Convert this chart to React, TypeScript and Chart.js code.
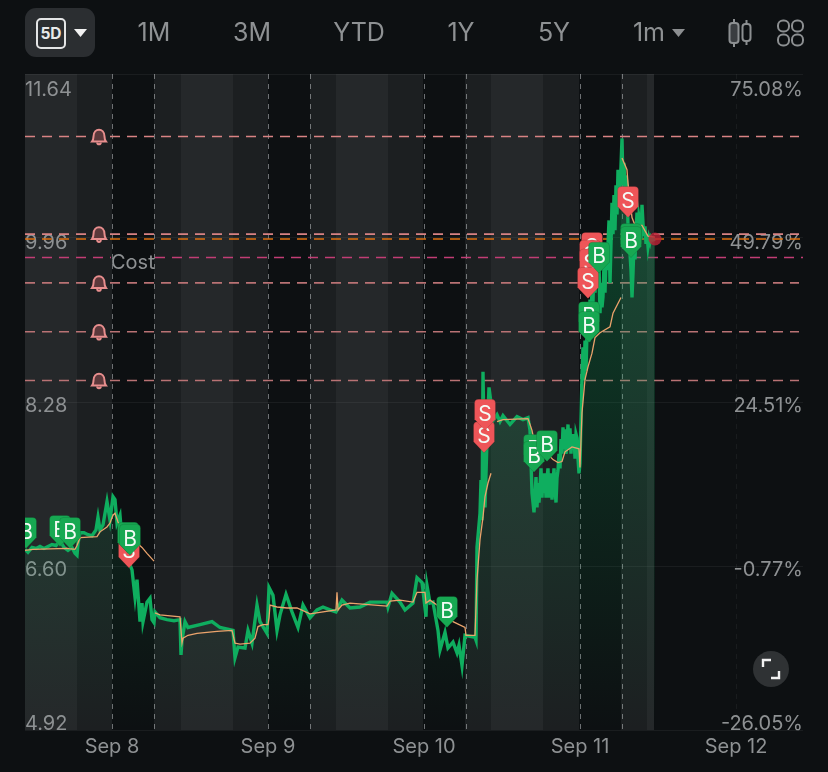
import React, { useEffect, useRef } from "react";
import { Chart, registerables } from "chart.js";

Chart.register(...registerables);

const toolbarLabels = ["1M", "3M", "YTD", "1Y", "5Y"];
const priceTicks = [4.92, 6.6, 8.28, 9.96, 11.64];
const percentTicks = [-26.05, -0.77, 24.51, 49.79, 75.08];
const sessionLines = [87, 129, 243, 285, 399, 441, 555, 597, 711];
const dayTicks = [87, 243, 399, 555, 711];
const dayLabels = ["Sep 8", "Sep 9", "Sep 10", "Sep 11", "Sep 12"];

const bandEdges = [0, 52, 87, 129, 156, 208, 243, 285, 311, 363, 398, 440, 466, 518, 554, 596, 622, 629];
const bandKinds = ["light", "mid", "dark", "mid", "light", "mid", "dark", "mid", "light", "mid", "dark", "mid", "light", "mid", "dark", "mid", "light"];

const priceXEarly = [0, 3, 7, 11, 15, 19, 23, 27, 31, 35, 39, 43, 47, 50, 52, 53, 55, 59, 63, 67, 71, 73, 75, 78, 82, 85, 88, 90, 92, 95, 97, 101, 107, 110, 112, 115, 117, 118, 122, 125, 127, 129, 130, 135, 142, 149, 155, 156, 157, 160, 163, 175, 187, 195, 208, 210, 213, 220, 223, 227, 232, 235, 242, 244, 248, 252, 255, 261, 267, 273, 278, 285, 292, 298, 305, 311, 317, 325, 335, 345, 362, 363, 367, 375, 380, 388, 392, 397, 398, 401, 402, 405, 408, 413, 415, 420, 423, 428, 432, 434, 437, 440, 450, 451, 452, 455, 456, 457, 458, 460, 462, 464, 466, 468, 472, 475, 478, 485, 492, 498, 503, 505, 507, 509];
const priceYEarly = [6.77, 6.74, 6.79, 6.78, 6.8, 6.78, 6.8, 6.82, 6.81, 6.86, 6.79, 6.76, 6.79, 6.73, 6.71, 6.83, 6.94, 6.94, 6.92, 6.91, 6.97, 7.1, 6.97, 7.02, 7.26, 7.07, 7.31, 7.28, 7.04, 7.12, 6.87, 6.71, 6.56, 6.28, 6.46, 6.03, 6.22, 6.03, 6.23, 6.27, 6.05, 6.02, 6.13, 6.07, 6.05, 6.04, 6.05, 5.69, 5.84, 6.03, 5.97, 6.0, 6.03, 5.97, 5.94, 5.66, 5.77, 5.76, 5.94, 5.81, 6.2, 6.03, 5.91, 6.38, 6.3, 5.94, 6.1, 6.31, 6.13, 5.97, 6.2, 6.07, 6.15, 6.18, 6.15, 6.13, 6.25, 6.17, 6.18, 6.23, 6.23, 6.18, 6.32, 6.23, 6.15, 6.22, 6.48, 6.43, 6.35, 6.08, 6.4, 6.22, 6.23, 5.94, 5.74, 5.92, 5.76, 5.82, 5.71, 5.79, 5.58, 5.89, 5.87, 5.84, 6.79, 7.14, 7.48, 7.07, 8.59, 7.2, 7.89, 8.43, 8.27, 8.09, 8.15, 8.08, 8.14, 8.05, 8.13, 8.1, 8.12, 7.99, 7.35, 7.15];

const priceLate: number[][] = [
  [511, 7.51], [512, 7.2], [513, 7.45], [514, 7.25], [515, 7.41], [516, 7.6], [517, 7.3], [518, 7.55], [519, 7.35], [520, 7.55],
  [521, 7.3], [522, 7.5], [523, 7.6], [524, 7.3], [525, 7.41], [526, 7.55], [527, 7.28], [528, 7.45], [529, 7.6], [530, 7.4],
  [531, 7.25], [532, 7.5], [533, 7.58], [534, 7.75], [535, 7.6], [536, 7.9], [537, 7.75], [538, 8.02], [539, 7.8], [540, 8.0],
  [541, 7.75], [542, 7.86], [543, 8.05], [544, 7.8], [545, 8.01], [546, 7.75], [547, 7.95], [548, 7.79], [549, 7.95], [550, 7.7],
  [551, 7.95], [552, 7.91], [553, 7.7], [554, 7.55], [555, 7.65], [556, 8.1], [557, 8.54], [558, 8.84], [559, 8.5], [560, 8.91],
  [561, 8.6], [562, 9.0], [563, 9.12], [564, 8.9], [565, 9.33], [566, 9.0], [567, 9.5], [568, 9.3], [569, 9.79], [570, 9.4],
  [571, 9.85], [572, 9.94], [573, 9.5], [574, 9.7], [575, 9.19], [576, 9.5], [577, 9.25], [578, 9.36], [579, 9.7], [580, 9.4],
  [581, 9.8], [582, 9.63], [583, 9.9], [584, 10.14], [585, 9.5], [586, 9.9], [587, 10.32], [588, 10.0], [589, 10.4], [590, 10.04],
  [591, 10.5], [592, 10.2], [593, 10.66], [594, 10.3], [595, 10.45], [596, 10.7], [597, 10.98], [598, 10.5], [599, 10.73], [600, 10.4],
  [601, 10.6], [602, 10.5], [603, 10.1], [604, 10.04], [605, 9.8], [606, 9.63], [607, 9.35], [608, 9.6], [609, 9.9], [610, 9.74],
  [611, 10.0], [612, 10.22], [613, 9.95], [614, 10.18], [615, 10.12], [616, 9.95], [617, 10.3], [618, 10.11], [619, 9.98], [620, 10.08],
  [621, 9.9], [622, 10.0], [623, 9.88], [624, 9.96], [625, 9.92], [626, 9.97], [628, 9.94], [630, 9.95],
];

const avgX = [0, 8, 42, 50, 52, 55, 72, 75, 82, 85, 88, 90, 93, 97, 117, 122, 129, 129.5, 130, 135, 155, 157, 158, 163, 172, 192, 207, 210, 215, 225, 230, 233, 238, 243, 244, 245, 252, 262, 272, 285, 311, 312, 313, 317, 325, 362, 365, 375, 388, 392, 400, 401, 405, 412, 428, 440, 441, 450, 452, 455, 458, 460, 463, 466, 467, 472, 478, 503, 507, 509, 528, 533, 537, 540, 547, 554, 555, 557, 560, 563, 567, 570, 575, 585, 588, 596, 596.5, 597, 602, 603, 607, 610, 617, 623, 630];
const avgY = [6.76, 6.77, 6.78, 6.77, 6.81, 6.89, 6.9, 6.95, 7.0, 7.04, 7.12, 7.14, 7.05, 6.97, 6.79, 6.73, 6.65, null, 6.12, 6.1, 6.08, 5.81, 5.86, 5.89, 5.91, 5.93, 5.94, 5.81, 5.8, 5.81, 5.86, 5.98, 6.0, 6.0, 6.07, 6.2, 6.18, 6.17, 6.17, 6.11, 6.15, 6.33, 6.15, 6.2, 6.22, 6.19, 6.24, 6.25, 6.23, 6.33, 6.33, 6.22, 6.25, 6.2, 6.03, 5.97, 5.89, 5.89, 6.46, 6.87, 7.1, 7.31, 7.45, 7.55, null, 8.08, 8.1, 8.11, 7.99, 7.89, 7.69, 7.66, 7.67, 7.77, 7.82, 7.8, 7.61, 8.17, 8.51, 8.64, 8.78, 8.94, 8.99, 9.05, 9.19, 9.35, null, 10.78, 10.66, 10.52, 10.17, 10.09, 10.09, 9.98, 9.97];

const alertPrices = [11.0, 10.0, 9.5, 9.0, 8.5];
const lastPrice = 9.95;
const costPrice = 9.76;
const costLineX = [0, 86, 108, 130, 778];
const costLineY = [costPrice, costPrice, null, costPrice, costPrice];
const costLabelX = 86;

const buyX = [1, 35, 45, 103, 105, 422, 509, 509, 522, 574, 564, 564, 606, 606];
const buyY = [6.78, 6.8, 6.78, 6.73, 6.71, 5.97, 7.63, 7.56, 7.67, 9.6, 8.99, 8.89, 9.79, 9.76];
const sellX = [104, 459, 460, 567, 565, 565, 563, 603];
const sellY = [6.58, 7.76, 7.99, 9.7, 9.62, 9.53, 9.34, 10.17];

const BG = "#0d1012";
const TEXT = "#8e9193";
const FONT = "Inter";
const BAND_COLORS: Record<string, string> = { light: "#25282a", mid: "#1c1f21", dark: "#0d1012" };
const LABEL_NUDGE = [-6, 4, 4, 5, 16];

const pts = (xs: number[], ys: (number | null)[]) => xs.map((x, i) => ({ x, y: ys[i] }));

function drawFlag(ctx: CanvasRenderingContext2D, x: number, tip: number, letter: string, color: string) {
  const w = 10.5, top = tip - 31, sh = tip - 11, r = 4;
  ctx.beginPath();
  ctx.moveTo(x - w, sh);
  ctx.lineTo(x - w, top + r);
  ctx.quadraticCurveTo(x - w, top, x - w + r, top);
  ctx.lineTo(x + w - r, top);
  ctx.quadraticCurveTo(x + w, top, x + w, top + r);
  ctx.lineTo(x + w, sh);
  ctx.lineTo(x, tip);
  ctx.closePath();
  ctx.fillStyle = color;
  ctx.fill();
  ctx.strokeStyle = "rgba(0,0,0,0.12)";
  ctx.lineWidth = 1;
  ctx.stroke();
  ctx.fillStyle = "#f4fbf6";
  ctx.font = `400 21px ${FONT}`;
  ctx.textAlign = "center";
  ctx.textBaseline = "middle";
  ctx.fillText(letter, x, tip - 16);
}

function drawBell(ctx: CanvasRenderingContext2D, x: number, y: number) {
  ctx.beginPath();
  ctx.moveTo(x - 7, y + 5);
  ctx.quadraticCurveTo(x - 5.5, y + 3, x - 5.5, y);
  ctx.bezierCurveTo(x - 5.5, y - 9, x + 5.5, y - 9, x + 5.5, y);
  ctx.quadraticCurveTo(x + 5.5, y + 3, x + 7, y + 5);
  ctx.closePath();
  ctx.fillStyle = "#5c383b";
  ctx.fill();
  ctx.strokeStyle = "#e88e8e";
  ctx.lineWidth = 2;
  ctx.stroke();
  ctx.beginPath();
  ctx.arc(x, y + 6, 1.8, 0, Math.PI);
  ctx.stroke();
}

const paintPlugin = {
  id: "paintPlugin",
  beforeDraw(chart: any) {
    const { ctx, chartArea, scales } = chart;
    ctx.save();
    bandKinds.forEach((k, i) => {
      const a = scales.x.getPixelForValue(bandEdges[i]);
      const b = scales.x.getPixelForValue(bandEdges[i + 1]);
      ctx.fillStyle = BAND_COLORS[k];
      ctx.fillRect(a, chartArea.top, b - a, chartArea.bottom - chartArea.top);
    });
    ctx.restore();
    if (!chart.$nudged) {
      chart.$nudged = true;
      [scales.y, scales.y1].forEach((s: any) => {
        s.getLabelItems().forEach((item: any, i: number) => {
          item.options.translation[1] += LABEL_NUDGE[i];
        });
      });
    }
  },
  afterDatasetsDraw(chart: any) {
    const { ctx, chartArea } = chart;
    ctx.save();
    ctx.beginPath();
    ctx.rect(chartArea.left, chartArea.top, chartArea.right - chartArea.left, chartArea.bottom - chartArea.top);
    ctx.clip();
    chart.data.datasets.forEach((ds: any, i: number) => {
      const meta = chart.getDatasetMeta(i);
      if (ds.label === "Sells") meta.data.forEach((p: any) => drawFlag(ctx, p.x, p.y, "S", "#ee5558"));
      if (ds.label === "Buys") meta.data.forEach((p: any) => drawFlag(ctx, p.x, p.y, "B", "#17a852"));
      if (ds.label === "Alert bells") meta.data.forEach((p: any) => drawBell(ctx, p.x, p.y));
      if (ds.label === "Cost") {
        ctx.fillStyle = TEXT;
        ctx.font = `400 20px ${FONT}`;
        ctx.textAlign = "left";
        ctx.textBaseline = "middle";
        const px = chart.scales.x.getPixelForValue(costLabelX);
        const py = chart.scales.y.getPixelForValue(costPrice);
        ctx.fillText("Cost", px, py + 5);
      }
    });
    ctx.restore();
  },
};

const hline = (label: string, price: number, end: number, color: string) => ({
  label,
  data: pts([0, end], [price, price]),
  borderColor: color,
  borderWidth: 1.6,
  borderDash: [10, 7],
  pointRadius: 0,
  fill: false,
  order: 5,
});

export default function App() {
  const ref = useRef<HTMLCanvasElement | null>(null);
  useEffect(() => {
    const chart = new Chart(ref.current as HTMLCanvasElement, {
      type: "line",
      data: {
        datasets: [
          { label: "Alert bells", data: pts(alertPrices.map(() => 74), alertPrices), showLine: false, pointRadius: 0, order: 0 },
          { label: "Sells", data: pts(sellX, sellY), showLine: false, pointRadius: 0, order: 0 },
          { label: "Buys", data: pts(buyX, buyY), showLine: false, pointRadius: 0, order: 0 },
          {
            label: "Last",
            data: pts([630], [lastPrice]),
            showLine: false,
            pointRadius: 6.5,
            pointBackgroundColor: "rgba(190,35,55,0.8)",
            pointBorderWidth: 0,
            order: 1,
          },
          { label: "Average", data: pts(avgX, avgY), borderColor: "#eba36c", borderWidth: 1.3, pointRadius: 0, spanGaps: false, tension: 0, order: 2 },
          {
            label: "Price",
            data: [...pts(priceXEarly, priceYEarly), ...priceLate.map(([x, y]) => ({ x, y }))],
            borderColor: "#0fae5f",
            borderWidth: 3.4,
            pointRadius: 0,
            tension: 0,
            fill: "start",
            backgroundColor: (c: any) => {
              const area = c.chart.chartArea;
              if (!area) return "transparent";
              const g = c.chart.ctx.createLinearGradient(0, 140, 0, area.bottom);
              g.addColorStop(0, "rgba(16,174,96,0.34)");
              g.addColorStop(1, "rgba(16,174,96,0)");
              return g;
            },
            order: 3,
          },
          ...alertPrices.map((p, i) => hline("Alert " + p, p, 774, i < 2 ? "#d98384" : "#b97274")),
          hline("Last price", lastPrice, 778, "#e0700f"),
          {
            label: "Cost",
            data: pts(costLineX, costLineY),
            borderColor: "#c23d75",
            borderWidth: 1.6,
            borderDash: [10, 7],
            pointRadius: 0,
            spanGaps: false,
            order: 5,
          },
        ] as any,
      },
      options: {
        responsive: false,
        animation: false,
        events: [],
        layout: { padding: { left: 25, right: 25, top: 74, bottom: 0 } },
        plugins: { legend: { display: false }, tooltip: { enabled: false } },
        scales: {
          x: {
            type: "linear",
            min: 0,
            max: 778,
            afterBuildTicks: (s: any) => {
              s.ticks = sessionLines.map((value) => ({ value }));
            },
            afterFit: (s: any) => {
              s.height = 42;
            },
            border: { display: false, dash: [5, 5] },
            grid: {
              drawTicks: false,
              lineWidth: 1,
              color: (c: any) => (c.tick && c.tick.value === 711 ? "rgba(255,255,255,0.05)" : "rgba(190,192,194,0.55)"),
            },
            ticks: {
              autoSkip: false,
              maxRotation: 0,
              minRotation: 0,
              padding: 5,
              color: TEXT,
              font: { family: FONT, size: 20 },
              callback: (v: any) => {
                const i = dayTicks.indexOf(v);
                return i >= 0 ? dayLabels[i] : "";
              },
            },
          },
          y: {
            type: "linear",
            position: "left",
            min: 4.92,
            max: 11.64,
            afterBuildTicks: (s: any) => {
              s.ticks = priceTicks.map((value) => ({ value }));
            },
            afterFit: (s: any) => {
              s.width = 0;
            },
            border: { display: false },
            grid: { drawTicks: false, color: "rgba(255,255,255,0.055)" },
            ticks: {
              mirror: true,
              padding: 0,
              color: TEXT,
              font: { family: FONT, size: 20 },
              callback: (v: any) => Number(v).toFixed(2),
            },
          },
          y1: {
            type: "linear",
            position: "right",
            min: -26.05,
            max: 75.08,
            afterBuildTicks: (s: any) => {
              s.ticks = percentTicks.map((value) => ({ value }));
            },
            afterFit: (s: any) => {
              s.width = 0;
            },
            border: { display: false },
            grid: { display: false },
            ticks: {
              mirror: true,
              padding: 0,
              color: TEXT,
              font: { family: FONT, size: 20 },
              callback: (v: any) => Number(v).toFixed(2) + "%",
            },
          },
        },
      },
      plugins: [paintPlugin],
    } as any);
    return () => chart.destroy();
  }, []);

  const centers = [154, 252, 359, 461, 554];
  const tab = (text: string, cx: number) => (
    <div key={text} style={{ position: "absolute", left: cx - 50, width: 100, top: 17, height: 34, lineHeight: "34px", textAlign: "center", color: TEXT, font: `400 25px ${FONT}` }}>
      {text}
    </div>
  );

  return (
    <div style={{ position: "relative", width: 828, height: 772, background: BG, overflow: "hidden" }}>
      <style>{`html,body{margin:0;padding:0;background:${BG}}`}</style>
      <canvas ref={ref} width={828} height={772} style={{ display: "block" }} />
      <div style={{ position: "absolute", left: 25, top: 8, width: 70, height: 49, background: "#2b2e31", borderRadius: 11 }} />
      <div style={{ position: "absolute", left: 36, top: 18, width: 26, height: 27, border: "2px solid #e4e5e6", borderRadius: 5, color: "#e8e9ea", font: `700 15.5px/27px ${FONT}`, textAlign: "center" }}>5D</div>
      <svg style={{ position: "absolute", left: 0, top: 0 }} width={828} height={772}>
        <path d="M74 29 L87 29 L80.5 37 Z" fill="#f2f2f2" />
        <path d="M672 29 L685 29 L678.5 37 Z" fill="#8c8f91" />
        <g stroke="#8c8f91" strokeWidth="2" fill="none">
          <rect x="729.5" y="23" width="9" height="20" rx="3" fill="#3a3d40" />
          <path d="M734 19 V23 M734 43 V47" />
          <rect x="742.5" y="24" width="8" height="17" rx="3" />
          <path d="M746.5 20 V24 M746.5 41 V45" />
          <rect x="778" y="20.5" width="11" height="11" rx="5" />
          <rect x="792" y="20.5" width="11" height="11" rx="5" />
          <rect x="778" y="34.5" width="11" height="11" rx="5" />
          <rect x="792" y="34.5" width="11" height="11" rx="5" />
        </g>
        <circle cx="771" cy="669" r="18" fill="#2f3234" />
        <path d="M763 667 V660 H771 M779 671 V678 H771" stroke="#f2f2f2" strokeWidth="2.4" fill="none" />
      </svg>
      {toolbarLabels.map((t, i) => tab(t, centers[i]))}
      {tab("1m", 649)}
    </div>
  );
}
